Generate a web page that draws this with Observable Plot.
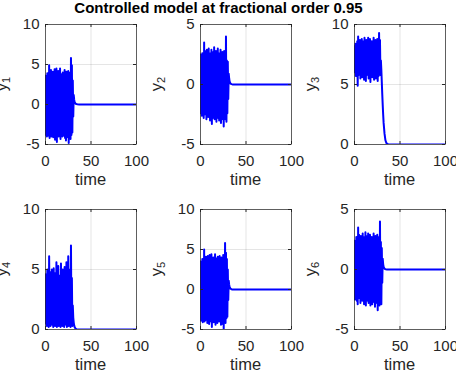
<!DOCTYPE html>
<html><head><meta charset="utf-8">
<script src="https://cdn.jsdelivr.net/npm/d3@7"></script>
<script src="https://cdn.jsdelivr.net/npm/@observablehq/plot@0.6"></script>
<style>
body{margin:0;background:#fff;}
#fig{position:relative;width:456px;height:372px;overflow:hidden;background:#fff;font-family:"Liberation Sans",Arial,sans-serif;}
#title{position:absolute;top:-1px;left:0;width:437px;text-align:center;font-weight:bold;font-size:15px;line-height:18px;color:#000;white-space:nowrap;}
.panel{position:absolute;}
</style></head><body>
<div id="fig"><div id="title">Controlled model at fractional order 0.95</div></div>
<script>
const time = [0,0.5,1,1.5,2,2.5,3,3.5,4,4.5,5,5.5,6,6.5,7,7.5,8,8.5,9,9.5,10,10.5,11,11.5,12,12.5,13,13.5,14,14.5,15,15.5,16,16.5,17,17.5,18,18.5,19,19.5,20,20.5,21,21.5,22,22.5,23,23.5,24,24.5,25,25.5,26,26.5,27,27.5,28,28.5,29,29.5,30,30.5,31,31.5,32,33,34,35,37,40,50,100];

const y1 = [3.6,-3.8,3.4,-4.0,3.9,-3.5,3.2,-3.9,4.9,-4.2,
 2.8,-3.6,4.3,-4.0,3.5,-3.3,4.1,-4.1,3.0,-3.7,
 4.4,-4.4,3.6,-3.5,4.5,-4.7,3.3,-3.8,4.2,-4.0,
 2.9,-3.6,4.5,-4.3,3.8,-3.4,3.4,-4.0,4.0,-3.9,
 3.1,-3.5,4.3,-4.2,3.7,-4.5,4.1,-3.7,3.5,-4.1,
 4.2,-4.8,3.6,-4.2,4.0,-4.3,5.8,-3.8,4.9,-3.5,
 3.0,-1.5,1.2,0.6,0.3,0.12,0.05,0.02,0,0,0,0];

const y2 = [2.5,-2.4,2.3,-2.6,2.6,-2.2,2.6,-2.8,3.5,-2.5,
 2.8,-2.3,2.4,-2.9,2.9,-2.1,2.2,-2.7,3.0,-2.4,
 2.6,-3.0,2.3,-2.6,2.9,-3.3,2.1,-2.8,2.7,-2.2,
 3.1,-2.9,2.4,-2.6,2.8,-3.1,2.2,-2.4,3.0,-2.8,
 2.5,-3.0,2.6,-2.3,2.9,-3.2,2.3,-2.7,2.7,-2.9,
 2.4,-3.5,2.8,-2.6,2.8,-2.9,4.0,-3.1,2.0,-2.4,
 1.9,-1.2,0.9,0.5,0.25,0.08,0.03,0.01,0,0,0,0];

const y3 = [8.2,6.0,8.4,5.7,8.0,6.3,8.6,4.9,9.0,5.8,
 8.3,6.1,8.7,5.5,8.1,6.2,8.8,5.6,8.2,5.9,
 8.6,5.4,8.9,6.0,8.3,5.3,8.7,5.8,8.4,6.2,
 8.9,5.5,8.2,5.9,8.8,5.2,8.5,6.1,8.6,5.6,
 8.3,5.8,8.9,5.4,8.4,6.0,8.7,5.5,8.5,5.9,
 8.8,5.3,8.6,5.7,9.3,6.4,8.7,5.8,7.0,6.2,
 5.2,4.2,3.3,2.5,1.8,0.9,0.35,0.12,0.02,0,0,0];

const y4 = [4.6,0.5,4.2,0.3,5.0,0.7,4.4,0.2,6.1,0.6,
 4.8,0.3,3.9,0.8,5.0,0.4,4.3,0.2,5.1,0.7,
 4.0,0.3,4.7,0.5,5.6,0.2,4.2,0.6,5.3,0.3,
 4.5,0.8,3.8,0.2,5.5,0.5,4.6,0.3,5.0,0.9,
 4.1,0.2,5.2,0.4,4.4,0.7,5.6,0.2,4.8,0.5,
 6.1,0.3,4.6,0.6,5.0,0.2,7.0,0.5,4.3,0.3,
 2.0,1.0,0.6,0.35,0.2,0.08,0.03,0.01,0,0,0,0];

const y5 = [3.5,-3.9,3.3,-3.7,3.8,-4.1,3.0,-3.6,5.0,-4.0,
 3.2,-3.8,4.1,-3.5,3.6,-4.2,4.2,-3.9,3.1,-4.3,
 4.3,-3.6,3.7,-4.0,4.4,-4.7,3.4,-3.7,4.0,-4.1,
 3.0,-3.8,4.4,-4.4,3.9,-3.5,3.3,-4.2,4.1,-3.8,
 3.2,-4.0,4.2,-3.6,3.6,-4.4,4.0,-3.9,3.4,-4.3,
 4.3,-4.9,3.7,-4.1,5.8,-4.2,4.6,-3.6,3.8,-3.4,
 2.5,-1.3,1.1,0.6,0.3,0.1,0.04,0.01,0,0,0,0];

const y6 = [2.4,-2.5,2.2,-2.3,2.7,-2.6,2.5,-2.9,3.5,-2.4,
 2.9,-2.2,2.3,-2.8,2.8,-2.5,2.4,-2.6,3.0,-2.3,
 2.7,-2.9,2.2,-2.7,3.1,-3.0,2.5,-2.4,2.8,-2.6,
 3.0,-2.8,2.3,-2.5,2.9,-3.0,2.6,-2.3,2.7,-2.9,
 2.4,-2.7,3.0,-2.4,2.5,-3.1,2.8,-2.6,2.6,-2.8,
 2.9,-3.4,2.5,-2.7,2.7,-3.0,4.0,-2.5,2.3,-2.9,
 1.8,-1.1,0.9,0.45,0.22,0.07,0.02,0.01,0,0,0,0];

const seriesList = [y1, y2, y3, y4, y5, y6];
const subscripts = ["1","2","3","4","5","6"];
const yDomains = [[-5,10],[-5,5],[0,10],[0,10],[-5,10],[-5,5]];
const yTicks = [[-5,0,5,10],[-5,0,5],[0,5,10],[0,5,10],[-5,0,5,10],[-5,0,5]];
const xTicks = [0,50,100];
const xLabel = "time";

// layout
const boxPos = [[45,24],[199.5,24],[354,24],[45,209],[199.5,209],[354,209]];
const ML = 46, MR = 8, MT = 6, MB = 48, W = 91, H = 120;
const FONT = '"Liberation Sans", Arial, sans-serif';
const AX = "#262626";
const fig = document.getElementById("fig");

seriesList.forEach((ys, i) => {
  const data = time.map((t, j) => ({t, v: ys[j]}));
  const fmt = d => String(d);
  const svg = Plot.plot({
    width: ML + W + MR, height: MT + H + MB,
    marginLeft: ML, marginRight: MR, marginTop: MT, marginBottom: MB,
    x: {domain: [0, 100], ticks: xTicks},
    y: {domain: yDomains[i], ticks: yTicks[i]},
    style: {fontFamily: FONT, fontSize: "15px", color: AX, background: "transparent", overflow: "visible"},
    marks: [
      Plot.gridX(xTicks, {stroke: "#000", strokeOpacity: 0.1}),
      Plot.gridY(yTicks[i], {stroke: "#000", strokeOpacity: 0.1}),
      Plot.line(data, {x: "t", y: "v", stroke: "#0000ff", strokeWidth: 2, clip: true}),
      Plot.tickX(xTicks, {x: d => d, stroke: AX, insetTop: H - 3}),
      Plot.tickX(xTicks, {x: d => d, stroke: AX, insetBottom: H - 3}),
      Plot.tickY(yTicks[i], {y: d => d, stroke: AX, insetRight: W - 3}),
      Plot.tickY(yTicks[i], {y: d => d, stroke: AX, insetLeft: W - 3}),
      Plot.frame({stroke: AX, strokeWidth: 0.7}),
      Plot.axisX({ticks: xTicks, tickSize: 0, tickPadding: 11, tickFormat: fmt, label: null, fill: AX}),
      Plot.axisY({ticks: yTicks[i], tickSize: 0, tickPadding: 6, tickFormat: fmt, label: null, fill: AX})
    ]
  });
  const s = d3.select(svg);
  s.append("text")
    .attr("x", ML + W / 2).attr("y", MT + H + 40.5)
    .attr("text-anchor", "middle")
    .attr("fill", AX)
    .style("font-size", "16.5px").style("font-family", FONT)
    .text(xLabel);
  const yl = s.append("text")
    .attr("transform", `translate(${ML - 38},${MT + H / 2}) rotate(-90)`)
    .attr("text-anchor", "middle")
    .attr("fill", AX)
    .style("font-size", "16.5px").style("font-family", FONT);
  yl.append("tspan").text("y");
  yl.append("tspan").attr("dy", "0.3em").style("font-size", "11px").text(subscripts[i]);
  svg.classList.add("panel");
  svg.style.left = (boxPos[i][0] - ML) + "px";
  svg.style.top = (boxPos[i][1] - MT) + "px";
  fig.appendChild(svg);
});
</script>
</body></html>
